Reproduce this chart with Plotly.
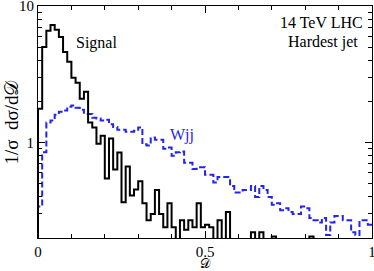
import numpy as np
import plotly.graph_objects as go

# bin edges (80 bins of width 0.0125 on 0..1)
bin_edges = list(np.linspace(0, 1, 81))

signal = [1.77, 5.0, 6.6, 7.27, 6.7, 5.94, 4.6, 3.9, 2.98, 2.74,
          2.09, 2.36, 1.40, 1.29, 0.98, 1.12, 0.546, 1.07, 0.635, 0.845,
          0.365, 0.668, 0.41, 0.454, 0.52, 0.36, 0.27, 0.30, 0.45, 0.30,
          0.24, 0.36, 0.24, 0, 0.27, 0.23, 0.27, 0.24, 0.36, 0.24,
          0.25, 0.24, 0, 0.27, 0, 0.31, 0, 0, 0, 0,
          0, 0.22, 0, 0.22, 0, 0, 0.205, 0, 0, 0,
          0, 0, 0, 0, 0, 0.205, 0, 0, 0, 0,
          0, 0, 0, 0, 0, 0, 0, 0, 0, 0]

wjj = [0.34, 0.85, 1.40, 1.45, 1.60, 1.68, 1.72, 1.83, 1.87, 1.80,
       1.74, 1.62, 1.62, 1.52, 1.50, 1.45, 1.47, 1.36, 1.30, 1.24,
       1.24, 1.20, 1.20, 1.22, 1.29, 0.97, 0.95, 1.09, 1.05, 1.05,
       0.90, 0.92, 0.80, 0.85, 0.86, 0.71, 0.71, 0.64, 0.66, 0.66,
       0.58, 0.58, 0.51, 0.56, 0.56, 0.56, 0.48, 0.43, 0.43, 0.45,
       0.45, 0.48, 0.40, 0.48, 0.45, 0.40, 0.35, 0.36, 0.32, 0.33,
       0.31, 0.30, 0.30, 0.34, 0.33, 0.28, 0.27, 0.26, 0.28, 0.21,
       0.26, 0.29, 0.29, 0.27, 0.27, 0.22, 0.21, 0.27, 0.27, 0.25]

x_ticks = [0, 0.5, 1]
x_ticktext = ["0", "0.5", "1"]
x_minor = [0.1, 0.2, 0.3, 0.4, 0.6, 0.7, 0.8, 0.9]

FLOOR = 1e-3


def step_xy(edges, vals):
    xs = [edges[0]] + list(edges)
    v = [val if val > 0 else FLOOR for val in vals]
    ys = [FLOOR] + v + [v[-1]]
    return xs, ys


FONT = "Liberation Serif"
BLUE = "#2424ee"
fig = go.Figure()
xs, ys = step_xy(bin_edges, wjj)
fig.add_trace(go.Scatter(x=xs, y=ys, mode="lines", line_shape="hv",
                         line=dict(color=BLUE, width=2, dash="6px,3px"),
                         showlegend=False, hoverinfo="skip"))
xs, ys = step_xy(bin_edges, signal)
fig.add_trace(go.Scatter(x=xs, y=ys, mode="lines", line_shape="hv",
                         line=dict(color="black", width=2),
                         showlegend=False, hoverinfo="skip"))

axis_common = dict(showline=True, linecolor="black", linewidth=1, mirror="allticks",
                   ticks="inside", ticklen=7, tickwidth=1, tickcolor="black",
                   showgrid=False, zeroline=False, automargin=False,
                   ticklabeloverflow="allow",
                   tickfont=dict(family=FONT, size=15, color="black"))

fig.update_xaxes(range=[0, 1], tickmode="array", tickvals=x_ticks, ticktext=x_ticktext,
                 ticklabelstandoff=0,
                 minor=dict(tickmode="array", tickvals=x_minor, ticks="inside", ticklen=4,
                            tickcolor="black", showgrid=False),
                 **axis_common)
fig.update_yaxes(type="log", range=[np.log10(0.2), 1], tickmode="linear", tick0=0, dtick=1,
                 minor=dict(dtick="D1", ticks="inside", ticklen=4,
                            tickcolor="black", showgrid=False),
                 **axis_common)

ann_font = dict(family=FONT, size=16, color="black")


def ann(text, x, y, font=ann_font, **kw):
    return dict(text=text, x=x, y=y, xref="paper", yref="paper", showarrow=False,
                xanchor="center", yanchor="middle", font=font, **kw)


fig.update_layout(
    width=374, height=271,
    margin=dict(l=38, r=2, t=6, b=33, autoexpand=False),
    paper_bgcolor="white", plot_bgcolor="white",
    annotations=[
        ann("Signal", 0.174, 0.841),
        ann("Wjj", 0.431, 0.444, font=dict(family=FONT, size=16, color=BLUE)),
        ann("14 TeV LHC", 0.850, 0.931),
        ann("Hardest jet", 0.852, 0.845),
        ann("1/σ\u00a0\u00a0dσ/d𝒟", -0.082, 0.50, textangle=-90,
            font=dict(family=FONT, size=19, color="black")),
        ann("𝒟", 0.5, -0.108, font=dict(family=FONT, size=13, color="black")),
    ],
)

fig.write_html("out.html", config={"displayModeBar": False},
               post_script="document.body.style.margin='0px';document.body.style.padding='0px';")
